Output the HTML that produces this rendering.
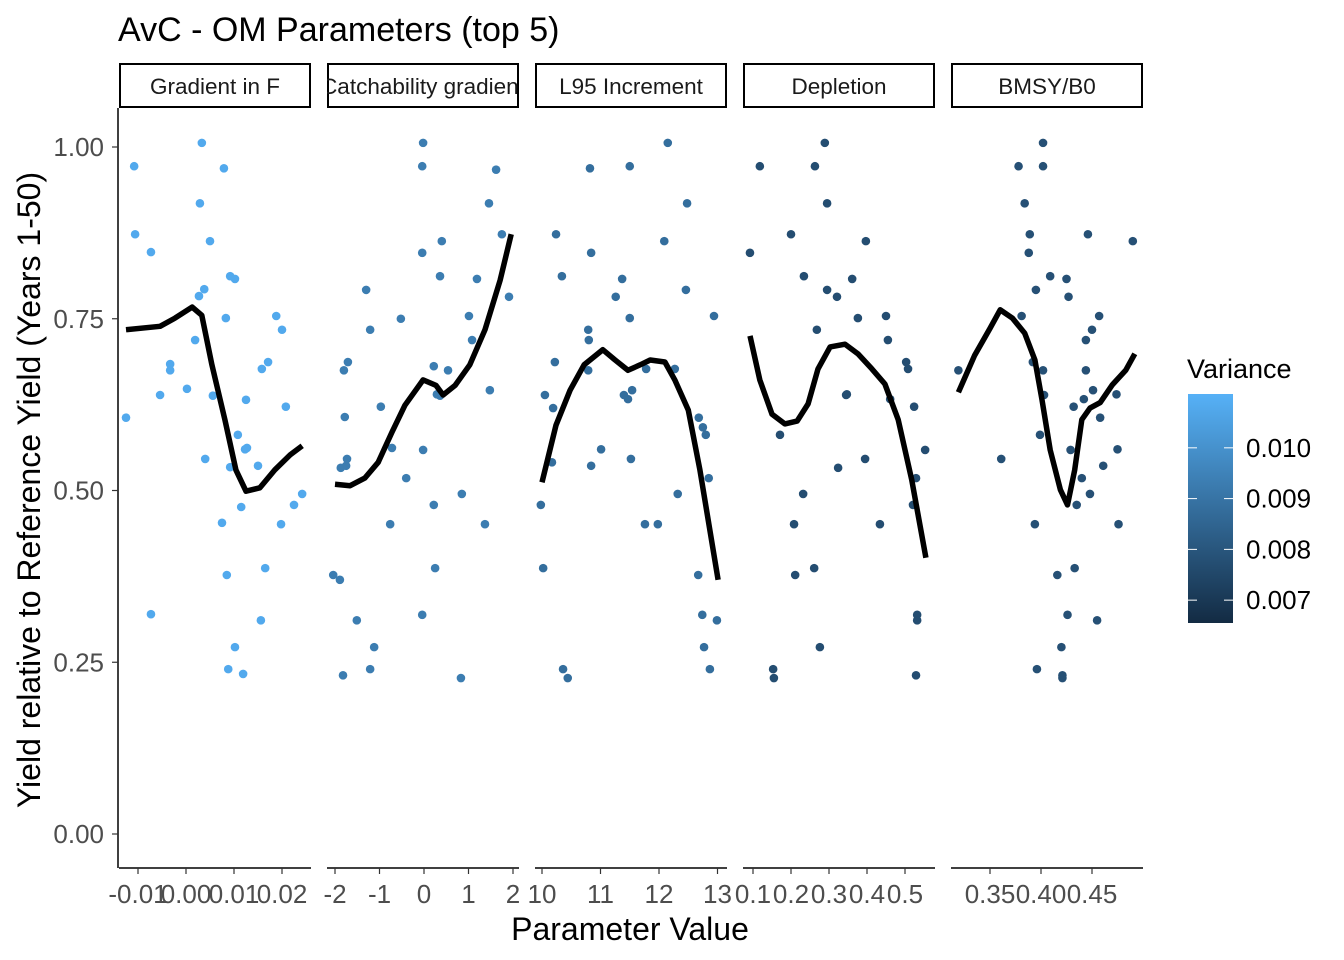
<!DOCTYPE html>
<html><head><meta charset="utf-8"><style>
body{margin:0;background:#fff}
svg{display:block;font-family:"Liberation Sans",Arial,sans-serif}
</style></head><body>
<svg id="chart" width="1344" height="960" viewBox="0 0 1344 960" xmlns="http://www.w3.org/2000/svg">
<rect width="1344" height="960" fill="#fff"/>
<text x="118" y="41" font-size="34" fill="#000">AvC - OM Parameters (top 5)</text>
<text transform="translate(40,490) rotate(-90)" text-anchor="middle" font-size="32" fill="#000">Yield relative to Reference Yield (Years 1-50)</text>
<text x="630" y="940" text-anchor="middle" font-size="32" fill="#000">Parameter Value</text>
<defs>
<linearGradient id="vg" x1="0" y1="1" x2="0" y2="0">
<stop offset="0" stop-color="#132B43"/><stop offset="1" stop-color="#56B1F7"/>
</linearGradient>
</defs>
<g id="legend">
<text x="1187" y="378" font-size="27" fill="#000">Variance</text>
<rect x="1188" y="394" width="45" height="229" fill="url(#vg)"/>
</g>
<g id="plot"></g>
</svg>
<script>
const NS="http://www.w3.org/2000/svg";
// ---- data ----
const panelNames=["Gradient in F","Catchability gradient","L95 Increment","Depletion","BMSY/B0"];
const panelVariance=[0.0108,0.0093,0.0088,0.0077,0.0078];
const yTicks=[0,0.25,0.5,0.75,1.0];
const yTickLabels=["0.00","0.25","0.50","0.75","1.00"];
const legendTicks=[0.007,0.008,0.009,0.010];
const legendLabels=["0.007","0.008","0.009","0.010"];
const xTicks1=[-0.01,0,0.01,0.02], xLabels1=["-0.01","0.00","0.01","0.02"];
const xTicks2=[-2,-1,0,1,2], xLabels2=["-2","-1","0","1","2"];
const xTicks3=[10,11,12,13], xLabels3=["10","11","12","13"];
const xTicks4=[0.1,0.2,0.3,0.4,0.5], xLabels4=["0.1","0.2","0.3","0.4","0.5"];
const xTicks5=[0.35,0.40,0.45], xLabels5=["0.35","0.40","0.45"];

const px1=[-0.0125,-0.0108,-0.0106,-0.0073,-0.0073,-0.0054,-0.0033,-0.0033,0.0002,0.0019,0.0027,0.0033,0.0029,0.0038,0.004,0.005,0.0056,0.0079,0.0075,0.0083,0.0085,0.0088,0.0092,0.0092,0.0102,0.0102,0.0108,0.0115,0.0119,0.0123,0.0125,0.0127,0.015,0.0156,0.0158,0.0165,0.0171,0.0188,0.0198,0.02,0.0208,0.0225,0.0242];
const py1=[0.606,0.972,0.873,0.847,0.32,0.639,0.684,0.675,0.648,0.719,0.783,1.006,0.918,0.793,0.546,0.863,0.638,0.969,0.453,0.751,0.377,0.24,0.812,0.534,0.808,0.272,0.581,0.476,0.233,0.56,0.632,0.562,0.536,0.311,0.677,0.387,0.687,0.754,0.451,0.734,0.622,0.479,0.495];
const sx1=[-0.0125,-0.0054,-0.0023,0.0013,0.0033,0.0054,0.0081,0.0104,0.0125,0.0154,0.0185,0.0217,0.0242];
const sy1=[0.734,0.739,0.751,0.767,0.755,0.683,0.603,0.530,0.499,0.504,0.530,0.552,0.565];

const px2=[-2.04,-1.89,-1.87,-1.82,-1.80,-1.78,-1.75,-1.73,-1.71,-1.51,-1.30,-1.21,-1.21,-1.12,-0.97,-0.76,-0.72,-0.52,-0.40,-0.04,-0.04,-0.02,-0.02,-0.04,0.22,0.22,0.25,0.29,0.36,0.36,0.40,0.54,0.85,1.01,1.08,1.19,1.37,1.46,1.48,1.62,1.75,1.91,0.83];
const py2=[0.377,0.370,0.533,0.231,0.675,0.607,0.536,0.546,0.687,0.311,0.792,0.734,0.240,0.272,0.622,0.451,0.562,0.75,0.518,0.846,0.972,1.006,0.559,0.319,0.479,0.681,0.387,0.640,0.812,0.638,0.863,0.675,0.495,0.754,0.719,0.808,0.451,0.918,0.646,0.967,0.873,0.782,0.227];
const sx2=[-2.0,-1.66,-1.33,-1.03,-0.72,-0.43,-0.02,0.27,0.43,0.70,1.03,1.37,1.71,1.96];
const sy2=[0.509,0.507,0.518,0.541,0.585,0.624,0.661,0.653,0.639,0.653,0.683,0.734,0.806,0.873];

const px3=[9.98,10.02,10.05,10.17,10.19,10.24,10.34,10.36,10.44,10.22,10.79,10.79,10.80,10.82,10.84,10.84,11.01,11.26,11.37,11.40,11.47,11.50,11.50,11.52,11.54,11.78,11.76,11.98,12.09,12.15,12.27,12.32,12.46,12.48,12.67,12.74,12.75,12.77,12.80,12.85,12.87,12.94,12.99,12.68];
const py3=[0.479,0.387,0.639,0.541,0.62,0.873,0.812,0.24,0.227,0.687,0.675,0.734,0.719,0.969,0.536,0.846,0.56,0.782,0.808,0.639,0.633,0.972,0.751,0.546,0.646,0.677,0.451,0.451,0.863,1.006,0.677,0.495,0.792,0.918,0.377,0.319,0.592,0.272,0.581,0.518,0.24,0.754,0.311,0.606];
const sx3=[10.0,10.24,10.48,10.72,11.04,11.25,11.47,11.68,11.85,12.10,12.27,12.50,12.70,12.87,13.01];
const sy3=[0.512,0.595,0.646,0.683,0.705,0.690,0.675,0.683,0.690,0.687,0.661,0.617,0.530,0.442,0.370];

const px4=[0.092,0.118,0.153,0.155,0.171,0.2,0.208,0.211,0.232,0.234,0.261,0.263,0.268,0.276,0.289,0.295,0.295,0.321,0.324,0.345,0.347,0.361,0.376,0.395,0.397,0.434,0.45,0.455,0.461,0.503,0.508,0.521,0.524,0.529,0.532,0.532,0.529,0.553];
const py4=[0.846,0.972,0.24,0.227,0.581,0.873,0.451,0.377,0.495,0.812,0.387,0.972,0.734,0.272,1.006,0.918,0.792,0.782,0.533,0.639,0.64,0.808,0.751,0.546,0.863,0.451,0.754,0.719,0.633,0.687,0.677,0.479,0.622,0.518,0.311,0.319,0.231,0.559];
const sx4=[0.092,0.118,0.15,0.184,0.216,0.245,0.271,0.303,0.342,0.376,0.413,0.447,0.482,0.518,0.555];
const sy4=[0.725,0.661,0.611,0.597,0.601,0.626,0.677,0.709,0.713,0.699,0.677,0.655,0.603,0.515,0.402];

const px5=[0.319,0.361,0.378,0.384,0.388,0.389,0.381,0.394,0.395,0.392,0.396,0.399,0.402,0.402,0.402,0.403,0.409,0.416,0.42,0.421,0.421,0.425,0.427,0.426,0.429,0.432,0.433,0.435,0.44,0.442,0.444,0.446,0.444,0.448,0.45,0.451,0.455,0.457,0.458,0.461,0.474,0.475,0.476,0.49];
const py5=[0.675,0.546,0.972,0.918,0.846,0.873,0.754,0.451,0.792,0.687,0.24,0.581,1.006,0.972,0.675,0.639,0.812,0.377,0.272,0.227,0.231,0.808,0.782,0.319,0.559,0.622,0.387,0.479,0.518,0.633,0.719,0.873,0.675,0.495,0.734,0.646,0.311,0.754,0.606,0.536,0.64,0.56,0.451,0.863];
const sx5=[0.319,0.335,0.35,0.36,0.372,0.384,0.394,0.401,0.409,0.419,0.426,0.433,0.44,0.448,0.458,0.47,0.483,0.492];
const sy5=[0.643,0.697,0.736,0.763,0.751,0.729,0.690,0.632,0.559,0.501,0.479,0.530,0.603,0.620,0.628,0.654,0.675,0.699];

// ---- layout ----
const panels=[
 {left:119,ref:-0.01,refPx:138,scale:4800,xs:px1,ys:py1,sx:sx1,sy:sy1,ticks:xTicks1,labels:xLabels1},
 {left:327,ref:0,refPx:424,scale:44.5,xs:px2,ys:py2,sx:sx2,sy:sy2,ticks:xTicks2,labels:xLabels2},
 {left:535,ref:10,refPx:542,scale:58.5,xs:px3,ys:py3,sx:sx3,sy:sy3,ticks:xTicks3,labels:xLabels3},
 {left:743,ref:0.1,refPx:753,scale:380,xs:px4,ys:py4,sx:sx4,sy:sy4,ticks:xTicks4,labels:xLabels4},
 {left:951,ref:0.40,refPx:1041,scale:1020,xs:px5,ys:py5,sx:sx5,sy:sy5,ticks:xTicks5,labels:xLabels5}
];
const PW=192, TOP=108, BOT=868;
const yScale=v=>834-v*687;
const vMin=0.00655,vMax=0.01106;
const legY=v=>623-(v-vMin)/(vMax-vMin)*229;
function colorFor(v){
  const t=Math.max(0,Math.min(1,(v-vMin)/(vMax-vMin)));
  const a=[0x13,0x2B,0x43],b=[0x56,0xB1,0xF7];
  return "rgb("+a.map((c,i)=>Math.round(c+(b[i]-c)*t)).join(",")+")";
}
function mk(tag,attrs,parent){const e=document.createElementNS(NS,tag);for(const k in attrs)e.setAttribute(k,attrs[k]);parent.appendChild(e);return e;}
const plot=document.getElementById("plot");
const defs=document.querySelector("defs");

const yAxis=mk("g",{},plot);


mk("line",{x1:118,y1:TOP,x2:118,y2:BOT,stroke:"#000","stroke-width":1.5},yAxis);
yTicks.forEach((v,i)=>{
  const y=yScale(v);
  mk("line",{x1:112,y1:y,x2:118,y2:y,stroke:"#333","stroke-width":1.2},yAxis);
  const t=mk("text",{x:104,y:y+9,"text-anchor":"end","font-size":26,fill:"#4D4D4D"},yAxis);
  
  
  t.textContent=yTickLabels[i];
});

panels.forEach((p,pi)=>{
  const g=mk("g",{},plot);
  
  
  const xs=v=>p.refPx+(v-p.ref)*p.scale;
  const cp=mk("clipPath",{id:"cp"+pi},defs);
  mk("rect",{x:p.left,y:63,width:PW,height:44},cp);
  const strip=mk("rect",{x:p.left+1,y:64,width:PW-2,height:43,fill:"#fff",stroke:"#000","stroke-width":2},g);
  
  
  const st=mk("text",{x:p.left+PW/2,y:94,"text-anchor":"middle","font-size":22.5,fill:"#1A1A1A","clip-path":"url(#cp"+pi+")"},g);
  
  
  st.textContent=panelNames[pi];
  mk("line",{x1:p.left,y1:BOT,x2:p.left+PW,y2:BOT,stroke:"#000","stroke-width":1.5},g);
  p.ticks.forEach((v,i)=>{
    const x=xs(v);
    mk("line",{x1:x,y1:BOT,x2:x,y2:BOT+6,stroke:"#333","stroke-width":1.2},g);
    const t=mk("text",{x:x,y:BOT+35,"text-anchor":"middle","font-size":26,fill:"#4D4D4D"},g);
    
    
    t.textContent=p.labels[i];
  });
  const col=colorFor(panelVariance[pi]);
  p.xs.forEach((v,i)=>{
    const c=mk("circle",{cx:xs(v),cy:yScale(p.ys[i]),r:4.3,fill:col},g);
    
    
  });
  const d=p.sx.map((v,i)=>(i?"L":"M")+xs(v).toFixed(1)+","+yScale(p.sy[i]).toFixed(1)).join("");
  const path=mk("path",{d:d,fill:"none",stroke:"#000","stroke-width":5.5,"stroke-linejoin":"round"},g);
  
  
});

const leg=document.getElementById("legend");
legendTicks.forEach((v,i)=>{
  const y=legY(v);
  mk("line",{x1:1188,y1:y,x2:1197,y2:y,stroke:"#fff","stroke-width":1},leg);
  mk("line",{x1:1224,y1:y,x2:1233,y2:y,stroke:"#fff","stroke-width":1},leg);
  const t=mk("text",{x:1246,y:y+9,"font-size":26,fill:"#000"},leg);
  
  
  t.textContent=legendLabels[i];
});
</script>
</body></html>
